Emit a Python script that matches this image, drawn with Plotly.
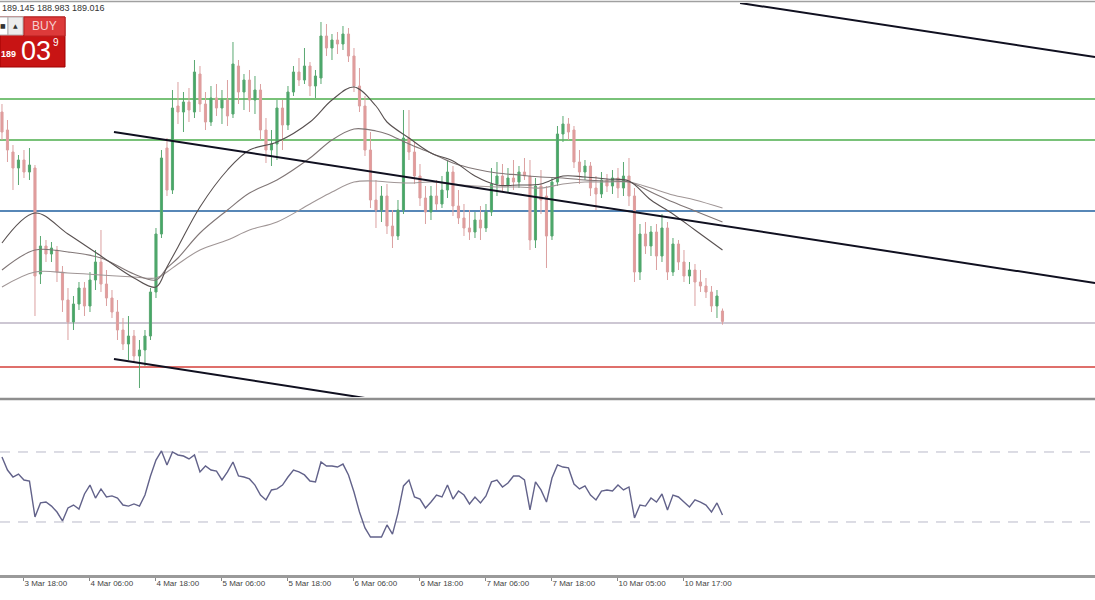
import plotly.graph_objects as go

# ---------------- DATA ----------------
bar_index = list(range(132))
opens = [191.11,190.93,190.71,190.55,190.63,190.51,190.55,189.49,189.77,189.69,189.73,189.51,189.23,189.01,189.19,189.35,189.17,189.43,189.61,189.39,
         189.25,189.11,188.93,188.79,188.87,188.67,188.73,188.87,189.31,189.89,190.75,190.33,191.17,191.11,191.21,191.11,191.49,191.19,191.01,191.25,
         191.15,191.23,191.09,191.57,191.31,191.43,191.23,191.33,190.93,190.73,190.79,191.15,190.98,191.31,191.51,191.43,191.57,191.37,191.45,191.87,
         191.75,191.83,191.79,191.89,191.67,191.37,191.17,190.73,190.23,190.13,190.27,189.97,189.87,190.13,190.85,190.71,190.47,190.25,190.11,190.27,
         190.19,190.33,190.51,190.17,190.05,189.95,189.91,190.03,189.95,190.11,190.39,190.47,190.37,190.45,190.41,190.51,190.47,189.83,190.37,190.27,
         189.87,190.41,190.89,190.99,190.93,190.61,190.51,190.57,190.35,190.29,190.43,190.37,190.45,190.35,190.47,190.27,189.51,189.89,189.77,189.91,
         189.67,189.95,189.51,189.79,189.61,189.47,189.53,189.41,189.37,189.31,189.17,189.12]
highs = [191.19,191.03,190.78,190.68,190.73,190.75,190.58,189.87,189.83,189.81,189.77,189.57,189.35,189.27,189.41,189.41,189.51,189.73,189.93,189.53,
         189.33,189.23,189.05,189.07,188.93,188.83,188.93,189.35,189.95,190.73,190.85,191.33,191.41,191.31,191.35,191.63,191.57,191.31,191.37,191.39,
         191.33,191.43,191.81,191.63,191.49,191.53,191.47,191.39,191.05,190.93,191.23,191.23,191.37,191.57,191.65,191.75,191.61,191.53,192.01,191.99,
         191.89,191.91,191.97,191.95,191.75,191.55,191.27,190.91,190.43,190.37,190.39,190.13,190.23,191.13,191.13,190.81,190.59,190.37,190.37,190.43,
         190.47,190.63,190.57,190.33,190.19,190.13,190.11,190.17,190.19,190.55,190.61,190.59,190.55,190.63,190.57,190.65,190.63,190.45,190.53,190.37,
         190.45,190.97,191.07,191.05,190.97,190.73,190.63,190.61,190.47,190.51,190.49,190.53,190.55,190.61,190.65,190.35,189.99,190.01,189.97,189.99,
         190.09,190.01,189.85,189.83,189.73,189.61,189.59,189.53,189.45,189.37,189.33,189.145]
lows = [190.83,190.61,190.33,190.38,190.45,190.43,189.07,189.39,189.61,189.61,189.41,189.11,188.83,188.93,189.13,189.07,189.11,189.33,189.31,189.17,
        189.05,188.83,188.73,188.63,188.61,188.35,188.57,188.83,189.25,189.85,190.27,190.29,190.99,190.91,191.01,191.05,191.11,190.93,190.97,191.07,
        190.99,190.97,191.05,191.19,191.13,191.11,191.09,190.83,190.60,190.57,190.63,190.73,190.93,191.27,191.37,191.39,191.27,191.25,191.39,191.67,
        191.63,191.69,191.73,191.61,191.31,191.11,190.67,190.15,189.95,190.01,189.89,189.75,189.83,190.09,190.63,190.39,190.17,189.99,190.03,190.13,
        190.15,190.25,190.07,189.99,189.87,189.83,189.85,189.83,189.91,190.07,190.27,190.31,190.31,190.33,190.35,190.43,189.73,189.75,190.09,189.55,
        189.83,190.37,190.81,190.83,190.55,190.39,190.43,190.27,190.13,190.25,190.31,190.29,190.25,190.27,190.17,189.41,189.43,189.69,189.67,189.53,
        189.61,189.43,189.47,189.53,189.41,189.39,189.17,189.31,189.25,189.11,189.05,188.983]
closes = [190.91,190.73,190.55,190.63,190.51,190.58,189.47,189.77,189.69,189.75,189.51,189.23,189.01,189.19,189.35,189.17,189.43,189.61,189.39,189.25,
          189.11,188.93,188.79,188.87,188.67,188.73,188.87,189.31,189.89,190.65,190.33,191.15,191.11,191.21,191.13,191.51,191.19,191.01,191.25,191.15,
          191.23,191.07,191.59,191.31,191.43,191.23,191.33,190.93,190.73,190.79,191.15,190.98,191.31,191.51,191.43,191.57,191.37,191.47,191.87,191.75,
          191.83,191.79,191.89,191.67,191.37,191.17,190.73,190.23,190.13,190.27,189.97,189.87,190.13,190.85,190.71,190.47,190.25,190.11,190.27,190.19,
          190.33,190.51,190.17,190.05,189.95,189.91,190.03,189.95,190.11,190.39,190.47,190.37,190.45,190.41,190.51,190.47,189.83,190.37,190.23,189.87,
          190.41,190.89,190.99,190.91,190.61,190.51,190.57,190.35,190.29,190.43,190.37,190.45,190.35,190.47,190.27,189.51,189.89,189.77,189.91,189.67,
          189.95,189.51,189.79,189.61,189.47,189.53,189.41,189.37,189.31,189.17,189.27,189.016]

ma_index = [0,6,12,18,24,28,30,32,36,41,45,50,56,60,64,68,70,74,78,82,86,90,94,98,102,106,110,114,118,122,126,131]
ma_fast = [189.80,190.10,189.89,189.67,189.45,189.36,189.56,189.76,190.16,190.53,190.73,190.81,191.01,191.23,191.36,191.17,
           191.01,190.85,190.70,190.62,190.47,190.38,190.38,190.39,190.47,190.46,190.44,190.42,190.23,190.09,189.93,189.73]
ma_mid = [189.53,189.73,189.71,189.65,189.49,189.43,189.55,189.65,189.90,190.13,190.30,190.43,190.65,190.83,190.94,190.92,
          190.89,190.79,190.70,190.60,190.54,190.50,190.48,190.46,190.45,190.43,190.42,190.41,190.31,190.21,190.12,190.01]
ma_slow = [189.36,189.51,189.50,189.48,189.46,189.45,189.51,189.59,189.73,189.83,189.93,190.01,190.19,190.31,190.41,190.42,
           190.41,190.40,190.41,190.39,190.37,190.36,190.36,190.35,190.39,190.41,190.41,190.41,190.35,190.28,190.23,190.15]

rsi = [67.1,59.7,55.7,57.4,54.0,53.4,32.9,40.9,41.4,39.1,35.7,30.6,38.0,39.7,37.4,46.0,51.1,43.7,48.9,44.3,
       44.9,43.7,39.7,39.1,40.3,39.1,45.4,56.3,65.4,70.6,62.6,70.0,68.3,67.7,66.0,68.3,58.6,62.0,59.7,59.1,
       54.0,58.6,64.3,56.3,55.7,54.6,51.1,45.4,42.6,48.3,48.9,51.1,55.7,59.7,58.6,56.9,53.4,52.9,64.3,62.0,
       62.0,61.4,63.1,56.9,47.1,35.7,26.6,21.4,21.4,21.4,28.3,23.1,35.1,50.6,54.0,44.3,43.1,38.0,41.4,45.4,
       44.3,51.1,43.1,47.7,45.4,40.3,44.3,40.9,44.9,52.9,54.0,50.0,52.3,56.3,56.3,54.0,36.9,52.9,48.3,41.4,
       55.1,62.6,61.4,60.9,51.7,48.9,50.6,45.4,42.6,47.7,48.3,47.7,51.1,48.3,50.0,32.3,39.7,39.1,43.7,41.4,
       46.0,36.9,45.4,44.3,41.4,38.6,42.6,41.4,39.7,35.7,40.9,34.0]
rsi_levels = [70, 30]

level_prices = [191.24, 190.83, 190.12, 189.00, 188.56]
level_colors = ["#4cae4c", "#4cae4c", "#1f5f9f", "#bcb4c4", "#d43f3a"]

channel_mid_x = [20.36, 198.73]
channel_mid_y = [190.91, 189.40]
channel_top_x = [134.2, 198.73]
channel_top_y = [192.20, 191.66]
channel_low_x = [20.36, 66.0]
channel_low_y = [188.64, 188.25]

tick_index = [-8, 4, 16, 28, 40, 52, 64, 76, 88, 100, 112, 124]
tick_text = ["3 Mar 06:00", "3 Mar 18:00", "4 Mar 06:00", "4 Mar 18:00", "5 Mar 06:00", "5 Mar 18:00", "6 Mar 06:00",
             "6 Mar 18:00", "7 Mar 06:00", "7 Mar 18:00", "10 Mar 05:00", "10 Mar 17:00"]

header_text = "189.145 188.983 189.016"

# ---------------- FIGURE ----------------
W, H = 1095, 600
def px(x): return x / W
def py(y): return 1 - y / H

fig = go.Figure()

fig.add_trace(go.Candlestick(
    x=bar_index, open=opens, high=highs, low=lows, close=closes,
    increasing=dict(line=dict(color="#5aa872", width=1), fillcolor="#45a866"),
    decreasing=dict(line=dict(color="#dba0a0", width=1), fillcolor="#e59a9a"),
    whiskerwidth=0, showlegend=False, hoverinfo="skip", xaxis="x", yaxis="y"))

for vals, col in [(ma_slow, "#a09696"), (ma_mid, "#807676"), (ma_fast, "#585050")]:
    fig.add_trace(go.Scatter(x=ma_index, y=vals, mode="lines", line=dict(color=col, width=1.1, shape="spline"),
                             showlegend=False, hoverinfo="skip", xaxis="x", yaxis="y"))

for xs, ys in [(channel_mid_x, channel_mid_y), (channel_top_x, channel_top_y), (channel_low_x, channel_low_y)]:
    fig.add_trace(go.Scatter(x=xs, y=ys, mode="lines", line=dict(color="#101020", width=2),
                             showlegend=False, hoverinfo="skip", xaxis="x", yaxis="y"))

fig.add_trace(go.Scatter(x=bar_index, y=rsi, mode="lines", line=dict(color="#62628a", width=1.4),
                         showlegend=False, hoverinfo="skip", xaxis="x2", yaxis="y2"))

shapes = []
for p, c in zip(level_prices, level_colors):
    shapes.append(dict(type="line", xref="paper", yref="y", x0=0, x1=1, y0=p, y1=p,
                       line=dict(color=c, width=1.3), layer="below"))
for lv in rsi_levels:
    shapes.append(dict(type="line", xref="paper", yref="y2", x0=0, x1=1, y0=lv, y1=lv,
                       line=dict(color="#b9b9c9", width=1, dash="10px,8px"), layer="below"))
# borders / separators
shapes.append(dict(type="line", xref="paper", yref="paper", x0=0, x1=1, y0=py(1.5), y1=py(1.5),
                   line=dict(color="#a0a0a0", width=1.5)))
shapes.append(dict(type="line", xref="paper", yref="paper", x0=0, x1=1, y0=py(399), y1=py(399),
                   line=dict(color="#8e8e8e", width=2.5)))
shapes.append(dict(type="line", xref="paper", yref="paper", x0=0, x1=1, y0=py(576.5), y1=py(576.5),
                   line=dict(color="#9a9a9a", width=3)))
# one-click trading panel
shapes.append(dict(type="rect", xref="paper", yref="paper", x0=px(0), x1=px(65), y0=py(67), y1=py(17),
                   fillcolor="#c81414", line=dict(color="#a00000", width=1)))
shapes.append(dict(type="rect", xref="paper", yref="paper", x0=px(24), x1=px(65), y0=py(36), y1=py(17),
                   fillcolor="#dd3a3a", line=dict(color="#b82020", width=1)))
shapes.append(dict(type="rect", xref="paper", yref="paper", x0=px(-1), x1=px(8), y0=py(35), y1=py(17),
                   fillcolor="#ffffff", line=dict(color="#b0b0b0", width=1)))
shapes.append(dict(type="rect", xref="paper", yref="paper", x0=px(8), x1=px(23), y0=py(35), y1=py(17),
                   fillcolor="#ececec", line=dict(color="#b0b0b0", width=1)))

annotations = [
    dict(x=px(0), y=py(8), xref="paper", yref="paper", text=header_text, showarrow=False,
         xanchor="left", yanchor="middle", font=dict(family="Liberation Sans", size=9, color="#333333")),
    dict(x=px(44.5), y=py(26), xref="paper", yref="paper", text="BUY", showarrow=False,
         xanchor="center", yanchor="middle", font=dict(family="Liberation Sans", size=12, color="#f6d0d0")),
    dict(x=px(15.5), y=py(25.5), xref="paper", yref="paper", text="▲", showarrow=False,
         xanchor="center", yanchor="middle", font=dict(family="DejaVu Sans", size=6, color="#333333")),
    dict(x=px(3), y=py(25.5), xref="paper", yref="paper", text="■", showarrow=False,
         xanchor="center", yanchor="middle", font=dict(family="DejaVu Sans", size=6, color="#333333")),
    dict(x=px(-1), y=py(54), xref="paper", yref="paper", text="<b>189</b>", showarrow=False,
         xanchor="left", yanchor="middle", font=dict(family="Liberation Sans", size=9, color="#ffffff")),
    dict(x=px(19), y=py(51), xref="paper", yref="paper", text="03", showarrow=False,
         xanchor="left", yanchor="middle", font=dict(family="Liberation Sans", size=27, color="#ffffff")),
    dict(x=px(51), y=py(42), xref="paper", yref="paper", text="9", showarrow=False,
         xanchor="left", yanchor="middle", font=dict(family="Liberation Sans", size=10, color="#ffffff")),
]

x_range = [-0.36, 198.73]
fig.update_layout(
    width=W, height=H, margin=dict(l=0, r=0, t=0, b=0),
    paper_bgcolor="white", plot_bgcolor="white", showlegend=False,
    boxgap=0.45,
    xaxis=dict(domain=[0, 1], range=x_range, showticklabels=False, showgrid=False, zeroline=False,
               rangeslider=dict(visible=False), anchor="y", fixedrange=True),
    yaxis=dict(domain=[py(397), py(3)], range=[188.26, 192.20], showticklabels=False, showgrid=False,
               zeroline=False, anchor="x"),
    xaxis2=dict(domain=[0, 1], range=x_range, matches="x", anchor="y2", showgrid=False, zeroline=False,
                tickmode="array", tickvals=tick_index, ticktext=tick_text, ticks="outside", ticklen=5,
                tickcolor="#888888", ticklabelposition="outside right",
                tickfont=dict(family="Liberation Sans", size=8, color="#444444")),
    yaxis2=dict(domain=[py(575), py(401)], range=[-0.29, 99.14], showticklabels=False, showgrid=False,
                zeroline=False, anchor="x2"),
    shapes=shapes, annotations=annotations,
)

fig.write_html("out.html", config={"displayModeBar": False},
               post_script="document.body.style.margin='0';document.body.style.overflow='hidden';")
